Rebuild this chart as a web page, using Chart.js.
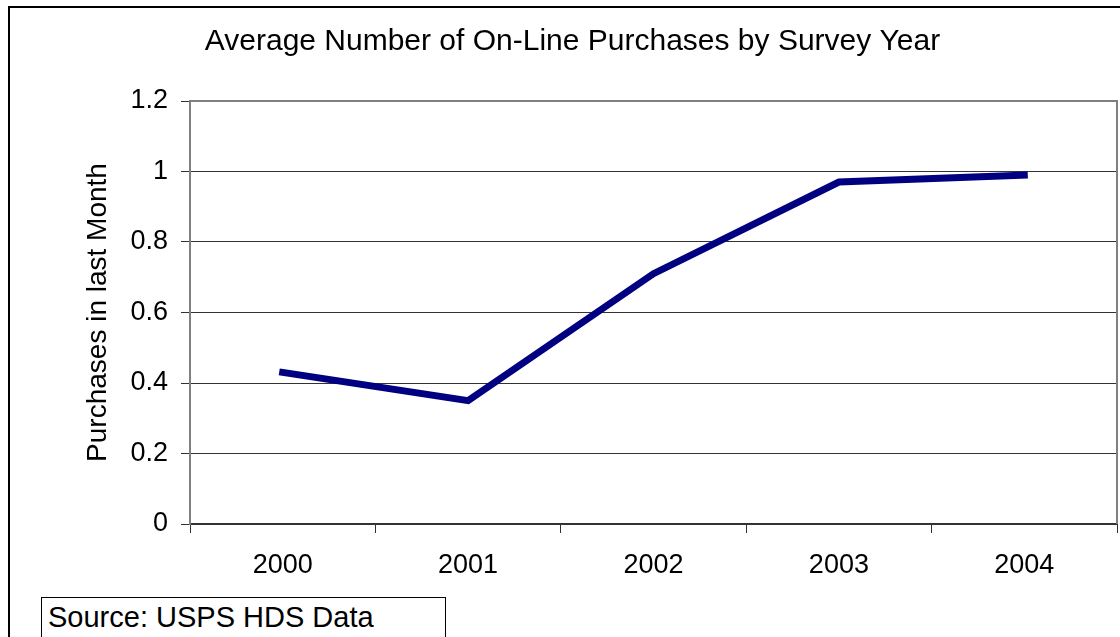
<!DOCTYPE html>
<html>
<head>
<meta charset="utf-8">
<script src="https://cdn.jsdelivr.net/npm/chart.js@4.4.0/dist/chart.umd.min.js"></script>
<style>
  html, body { margin: 0; padding: 0; background: #fff; }
  #wrap { position: relative; width: 1120px; height: 637px; overflow: hidden; }
  #source {
    position: absolute; left: 41px; top: 597px; width: 397px; height: 60px;
    border: 1px solid #000; padding-left: 6px; box-sizing: content-box;
    font-family: "Liberation Sans", Arial, sans-serif; font-size: 29px; line-height: 38px; color: #000;
    background: #fff;
  }
</style>
</head>
<body>
<div id="wrap">
  <canvas id="chart" width="1120" height="637"></canvas>
  <div id="source">Source: USPS HDS Data</div>
</div>
<script>
// ---- data ----
const years = ["2000", "2001", "2002", "2003", "2004"];
const purchases = [0.43, 0.35, 0.71, 0.97, 0.99];
const yTickValues = [0, 0.2, 0.4, 0.6, 0.8, 1, 1.2];

const FONT = '"Liberation Sans", Arial, sans-serif';

// frame round the whole chart + top/right border of plot area
const framePlugin = {
  id: "frame",
  beforeDraw(chart) {
    const c = chart.ctx;
    c.save();
    c.fillStyle = "#fff";
    c.fillRect(0, 0, chart.width, chart.height);
    c.strokeStyle = "#000";
    c.lineWidth = 2;
    c.strokeRect(9, 7, 2000, 2000);
    c.restore();
  },
  afterDraw(chart) {
    const a = chart.chartArea;
    const c = chart.ctx;
    c.save();
    c.strokeStyle = "#808080";
    c.lineWidth = 2;
    c.beginPath();
    c.moveTo(a.left, a.top);
    c.lineTo(a.right, a.top);
    c.lineTo(a.right, a.bottom);
    c.stroke();
    c.restore();
  }
};

new Chart(document.getElementById("chart"), {
  type: "line",
  data: {
    labels: years,
    datasets: [{
      label: "Purchases",
      data: purchases,
      borderColor: "#000080",
      backgroundColor: "#000080",
      borderWidth: 7,
      borderCapStyle: "square",
      borderJoinStyle: "miter",
      pointRadius: 0,
      tension: 0,
      fill: false
    }]
  },
  options: {
    responsive: false,
    animation: false,
    layout: { padding: { left: 28, right: 3, top: 0, bottom: 0 } },
    plugins: {
      legend: { display: false },
      tooltip: { enabled: false },
      title: {
        display: true,
        text: "Average Number of On-Line Purchases by Survey Year",
        color: "#000",
        font: { family: FONT, size: 30, weight: "normal", lineHeight: 1.2 },
        padding: { top: 24, bottom: 41 }
      }
    },
    scales: {
      x: {
        type: "category",
        offset: true,
        grid: { offset: true, drawOnChartArea: false, drawTicks: true, tickLength: 9, color: "#333", lineWidth: 1 },
        border: { color: "#333", width: 2 },
        ticks: { color: "#000", font: { family: FONT, size: 27 }, padding: 16, maxRotation: 0 },
        afterFit(scale) { scale.height = 113; }
      },
      y: {
        min: 0,
        max: 1.2,
        afterBuildTicks(scale) { scale.ticks = yTickValues.map(v => ({ value: v })); },
        grid: { color: "#333", lineWidth: 1, drawTicks: true, tickLength: 9, tickColor: "#333" },
        border: { color: "#808080", width: 2 },
        ticks: { color: "#000", font: { family: FONT, size: 27 }, padding: 13, callback: v => String(v) },
        title: {
          display: true,
          text: "Purchases in last Month",
          color: "#000",
          font: { family: FONT, size: 28 },
          padding: { top: 53, bottom: 0 }
        },
        afterFit(scale) { scale.width = 162; }
      }
    }
  },
  plugins: [framePlugin]
});
</script>
</body>
</html>
